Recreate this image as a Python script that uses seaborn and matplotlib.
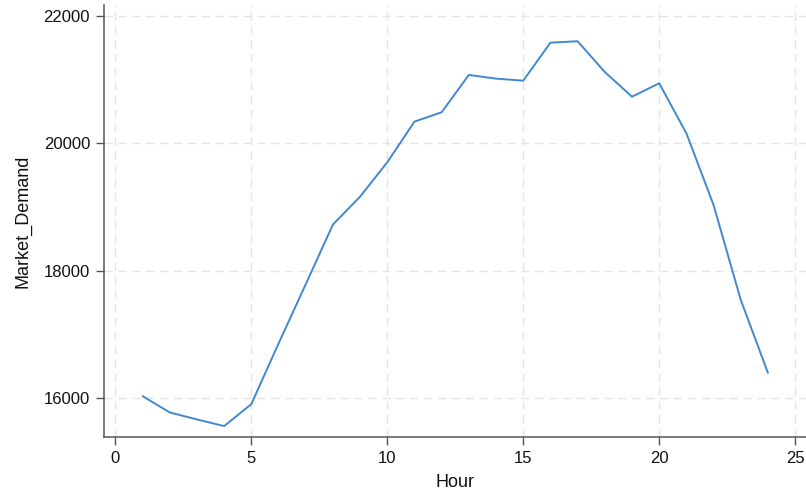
import pandas as pd
import matplotlib
matplotlib.use("Agg")
import matplotlib.pyplot as plt
import seaborn as sns

# --- dados ---
hours = list(range(1, 25))
market_demand = [16036, 15780, 15671, 15566, 15911, 16860, 17790, 18725,
                 19163, 19702, 20339, 20486, 21071, 21013, 20981, 21577,
                 21599, 21117, 20730, 20940, 20157, 19033, 17545, 16401]
x_ticks = [0, 5, 10, 15, 20, 25]
y_ticks = [16000, 18000, 20000, 22000]

df = pd.DataFrame({"Hour": hours, "Market_Demand": market_demand})

sns.set_style("white")
plt.rcParams["font.family"] = ["Liberation Sans", "DejaVu Sans"]

fig = plt.figure(figsize=(8.06, 4.95), dpi=100)
ax = fig.add_axes([0.129, 0.117, 0.871, 0.873])

sns.lineplot(data=df, x="Hour", y="Market_Demand", ax=ax,
             color="#4089d0", linewidth=1.4)

ax.set_xlim(-0.42, 25.4)
ax.set_ylim(15394, 22168)
ax.set_xticks(x_ticks)
ax.set_yticks(y_ticks)

# grade tracejada clara
ax.grid(True, color="#e4e4e4", linestyle=(0, (6, 4)), linewidth=1)
ax.set_axisbelow(True)

for s in ["top", "right"]:
    ax.spines[s].set_visible(False)
for s in ["left", "bottom"]:
    ax.spines[s].set_color("#555555")
    ax.spines[s].set_linewidth(1.1)

ax.tick_params(axis="both", which="major", direction="out", length=6,
               width=1, color="#555555", labelsize=12, labelcolor="#111111",
               bottom=True, left=True, pad=4)
ax.set_xlabel("Hour", fontsize=13, color="#111111", labelpad=6)
ax.set_ylabel("Market_Demand", fontsize=13, color="#111111", labelpad=9)

fig.savefig("out.png", dpi=100)
